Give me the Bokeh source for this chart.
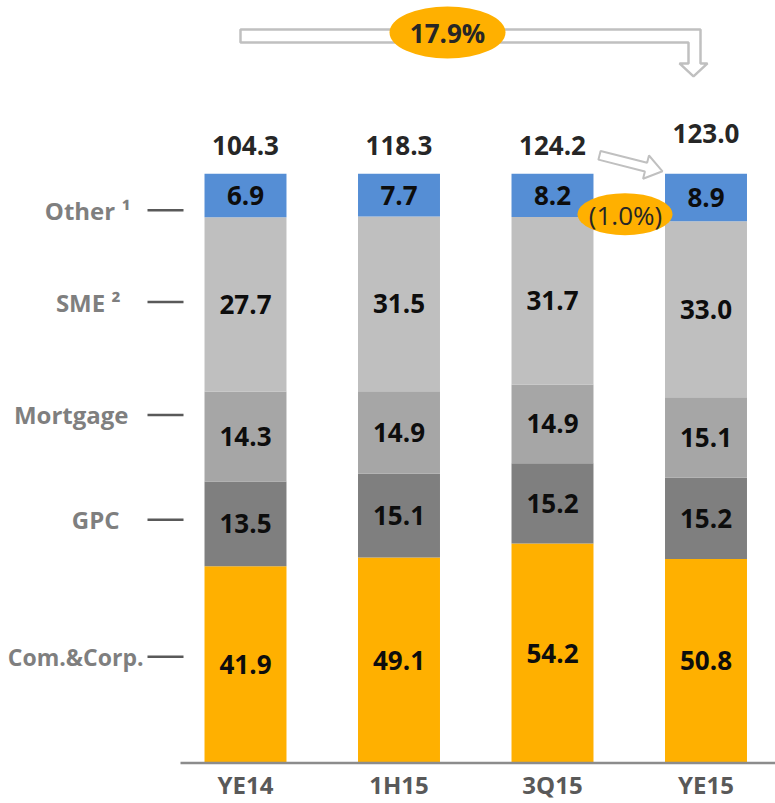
import numpy as np
from bokeh.plotting import figure
from bokeh.models import ColumnDataSource, FixedTicker, Range1d
from bokeh.core.properties import value
from bokeh.embed import file_html
from bokeh.resources import INLINE

# ---------------- data ----------------
periods = ["YE14", "1H15", "3Q15", "YE15"]
com_corp = [41.9, 49.1, 54.2, 50.8]
gpc = [13.5, 15.1, 15.2, 15.2]
mortgage = [14.3, 14.9, 14.9, 15.1]
sme = [27.7, 31.5, 31.7, 33.0]
other = [6.9, 7.7, 8.2, 8.9]
totals = [104.3, 118.3, 124.2, 123.0]
segment_names = ["Com.&Corp.", "GPC", "Mortgage", "SME ²", "Other ¹"]
growth_ytd = "17.9%"
growth_qoq = "(1.0%)"

# ---------------- style / layout ----------------
colors = ["#FFB000", "#7F7F7F", "#A6A6A6", "#BFBFBF", "#558ED5"]
FONT = value("Open Sans")
FIG_W, FIG_H = 775, 803
BB = 35                      # expected height of the bottom axis panel
SX, X_ORIGIN = 153.5, 245    # px per category, page x of first category
K, Y_FLOOR, Y_BASE = 657.0, 0.102, 763.5   # px per share unit, share at axis, page y of axis


def dx(px):
    return (px - X_ORIGIN) / SX


def dy(py):
    return Y_FLOOR + (Y_BASE - py) / K


p = figure(width=FIG_W, height=FIG_H, output_backend="svg", toolbar_location=None,
           x_range=Range1d(dx(0), dx(FIG_W)), y_range=Range1d(dy(FIG_H - BB), dy(0)),
           y_axis_location=None, min_border_left=0, min_border_bottom=0,
           min_border_top=0, min_border_right=0)
p.outline_line_color = None
p.grid.visible = False
p.background_fill_color = "white"

xs = np.arange(len(periods))
series = [com_corp, gpc, mortgage, sme, other]
tot = np.array(totals)
bottom = np.zeros(len(periods))
for vals, col in zip(series, colors):
    share = np.array(vals) / tot
    top = bottom + share
    vis_bottom = np.maximum(bottom, Y_FLOOR)
    src = ColumnDataSource(dict(x=xs, bottom=vis_bottom, top=top,
                                ymid=(vis_bottom + top) / 2,
                                lab=[f"{v:.1f}" for v in vals]))
    p.vbar(x="x", width=0.534, bottom="bottom", top="top", source=src,
           fill_color=col, line_color=None)
    p.text(x="x", y="ymid", text="lab", source=src, text_font=FONT,
           text_font_size="26px", text_font_style="bold", text_color="#0D0D0D",
           text_align="center", text_baseline="middle")
    bottom = top

# axis base line (starts right of the segment names)
p.segment(x0=[dx(180)], y0=[Y_FLOOR], x1=[dx(FIG_W)], y1=[Y_FLOOR],
          line_color="#8C8C8C", line_width=2.5)

# totals above bars
tot_y = [dy(145), dy(145), dy(145), dy(133)]
p.text(x=xs, y=tot_y, text=[f"{t:.1f}" for t in totals], text_font=FONT,
       text_font_size="26px", text_font_style="bold", text_color="#262626",
       text_align="center", text_baseline="middle")

# big bent hollow arrow YE14 -> YE15
big = [(240, 29), (700, 29), (700, 63), (707, 63), (693, 76), (679, 63),
       (688, 63), (688, 42), (240, 42)]
p.patch([dx(a) for a, b in big], [dy(b) for a, b in big], fill_color="white",
        line_color="#C0C0C0", line_width=2.5)
p.ellipse(x=dx(447), y=dy(32), width=116 / SX, height=52 / K,
          fill_color="#FFB000", line_color=None)
p.text(x=[dx(447)], y=[dy(33)], text=[growth_ytd], text_font=FONT,
       text_font_size="26px", text_font_style="bold", text_color="#262626",
       text_align="center", text_baseline="middle")

# small hollow arrow 3Q15 -> YE15
S = np.array([599.0, 155.0])
T = np.array([662.0, 171.0])
u = (T - S) / np.linalg.norm(T - S)
n = np.array([-u[1], u[0]])
B = T - 17 * u
small = [S + 4.5 * n, B + 4.5 * n, B + 12 * n, T, B - 12 * n, B - 4.5 * n, S - 4.5 * n]
p.patch([dx(a) for a, b in small], [dy(b) for a, b in small], fill_color="white",
        line_color="#C0C0C0", line_width=2)
p.ellipse(x=dx(624.5), y=dy(214), width=95 / SX, height=42 / K,
          fill_color="#FFB000", line_color=None)
p.text(x=[dx(625)], y=[dy(215)], text=[growth_qoq], text_font=FONT,
       text_font_size="26px", text_color="#262626",
       text_align="center", text_baseline="middle")

# segment names on the left with dashes
name_y = [657, 520, 415, 302, 210]
name_right = [143, 119, 128, 120, 130]
name_size = ["23px", "24px", "24px", "24px", "24px"]
p.text(x=[dx(r) for r in name_right], y=[dy(v) for v in name_y], text=segment_names,
       text_font=FONT, text_font_size=name_size, text_font_style="bold",
       text_color="#7F7F7F", text_align="right", text_baseline="middle")
p.segment(x0=[dx(147)] * 5, y0=[dy(v) for v in name_y], x1=[dx(183)] * 5,
          y1=[dy(v) for v in name_y], line_color="#595959", line_width=2.5)

# x axis (labels only)
ax = p.xaxis[0]
ax.ticker = FixedTicker(ticks=list(range(len(periods))))
ax.major_label_overrides = {i: nm for i, nm in enumerate(periods)}
ax.axis_line_color = None
ax.major_tick_line_color = None
ax.minor_tick_line_color = None
ax.major_label_standoff = -6
ax.major_label_text_font = "Open Sans"
ax.major_label_text_font_size = "24px"
ax.major_label_text_font_style = "bold"
ax.major_label_text_color = "#595959"

open("out.html", "w").write(file_html(p, INLINE))
